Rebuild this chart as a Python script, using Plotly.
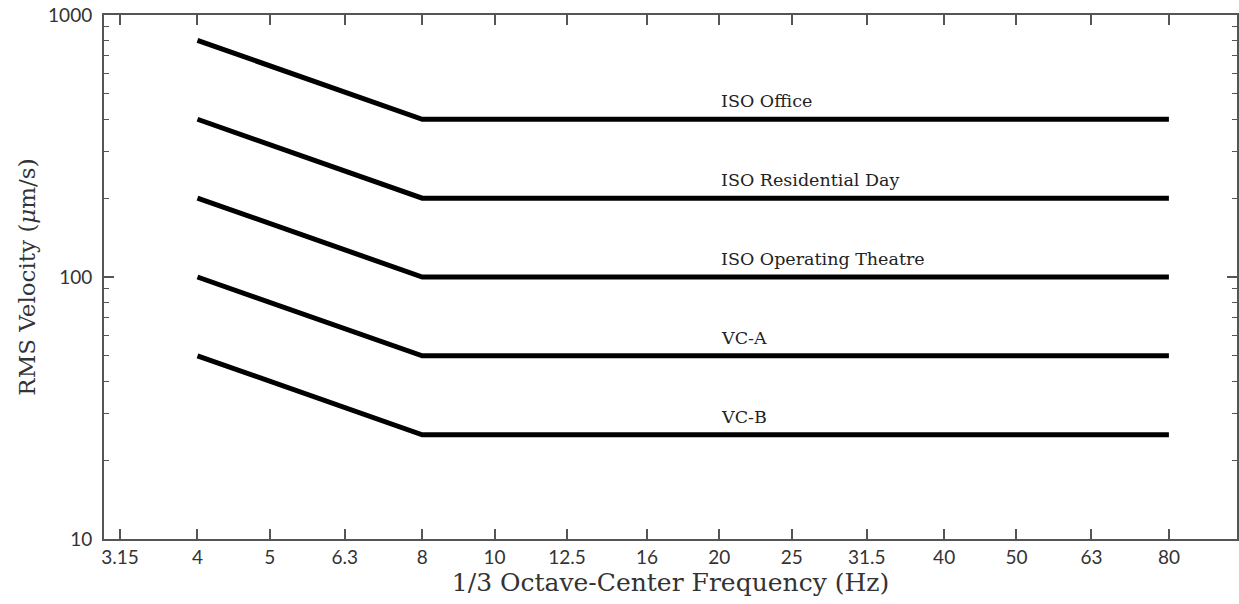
import plotly.graph_objects as go
import numpy as np

freq_ticks = [3.15, 4, 5, 6.3, 8, 10, 12.5, 16, 20, 25, 31.5, 40, 50, 63, 80]
freq_labels = ["3.15", "4", "5", "6.3", "8", "10", "12.5", "16", "20", "25", "31.5", "40", "50", "63", "80"]

curve_freq = [4, 8, 80]
curve_names = ["ISO Office", "ISO Residential Day", "ISO Operating Theatre", "VC-A", "VC-B"]
iso_office = [800, 400, 400]
iso_residential_day = [400, 200, 200]
iso_operating_theatre = [200, 100, 100]
vc_a = [100, 50, 50]
vc_b = [50, 25, 25]
curves = [iso_office, iso_residential_day, iso_operating_theatre, vc_a, vc_b]
label_freq = 20

y_ticks = [10, 100, 1000]
y_labels = ["10", "100", "1000"]

serif = "DejaVu Serif, Liberation Serif, serif"

fig = go.Figure()
for name, vals in zip(curve_names, curves):
    fig.add_trace(go.Scatter(x=curve_freq, y=vals, mode="lines", name=name,
                             line=dict(color="black", width=5), showlegend=False))
    fig.add_annotation(x=np.log10(label_freq), y=np.log10(vals[-1]), text=name,
                       xref="x", yref="y", xanchor="left", yanchor="bottom",
                       showarrow=False, yshift=6,
                       font=dict(family=serif, size=17.5, color="#222"))

tick_font = dict(family="Lato, Open Sans, sans-serif", size=19, color="#333")

fig.update_layout(
    width=1239, height=604,
    margin=dict(l=104, r=0, t=15, b=65),
    paper_bgcolor="white", plot_bgcolor="white",
    xaxis=dict(type="log", range=[0.4769, 1.9943], tickvals=freq_ticks, ticktext=freq_labels,
               ticks="inside", ticklen=10, tickwidth=1.5, tickcolor="#555",
               showline=True, linecolor="#555", linewidth=2, mirror="ticks",
               showgrid=False, zeroline=False, tickfont=tick_font,
               title=dict(text="1/3 Octave-Center Frequency (Hz)",
                          font=dict(family=serif, size=25, color="#333"), standoff=2)),
    yaxis=dict(type="log", range=[1, 3], tickvals=y_ticks, ticktext=y_labels,
               ticks="inside", ticklen=10, tickwidth=1.5, tickcolor="#555",
               showline=True, linecolor="#555", linewidth=2, mirror="ticks",
               showgrid=False, zeroline=False, tickfont=tick_font, ticklabelstandoff=6,
               minor=dict(ticks="inside", ticklen=5, tickcolor="#555", tickwidth=1,
                          tickvals=[v * d for d in (10, 100) for v in range(2, 10)]),
               title=dict(text="RMS Velocity (<i>μ</i>m/s)",
                          font=dict(family=serif, size=23, color="#333"), standoff=6)),
)

fig.write_html("out.html")
